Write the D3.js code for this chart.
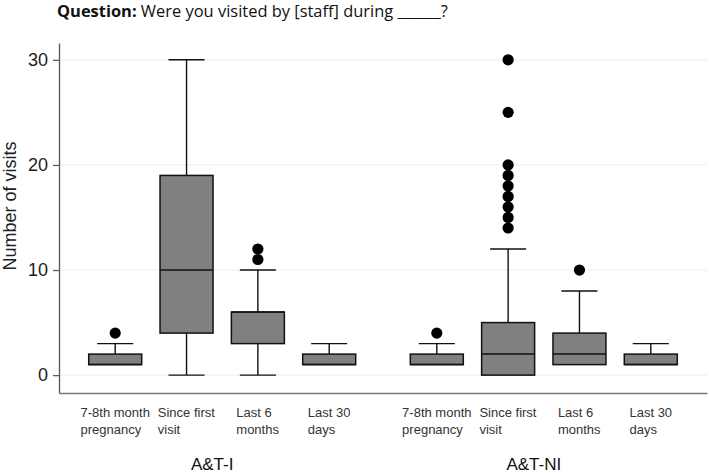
<html lang="en">
  <head>
    <meta charset="UTF-8" />
    <title>Visits boxplot</title>
    <script src="https://d3js.org/d3.v7.min.js"></script>
    <style>
      body { margin: 0; background: #ffffff; }
      svg { display: block; }
      text { font-family: "Liberation Sans", Arial, sans-serif; fill: #222; }
    </style>
  </head>
  <body>
    <script>
      const w = 709;
      const h = 473;

      // data
      const groups = ["A&T-I", "A&T-NI"];
      const categories = [
        ["7-8th month", "pregnancy"],
        ["Since first", "visit"],
        ["Last 6", "months"],
        ["Last 30", "days"],
      ];
      const whiskerLow = [[1, 0, 0, 1], [1, 0, 1, 1]];
      const q1 = [[1, 4, 3, 1], [1, 0, 1, 1]];
      const medians = [[1, 10, 6, 1], [1, 2, 2, 1]];
      const q3 = [[2, 19, 6, 2], [2, 5, 4, 2]];
      const whiskerHigh = [[3, 30, 10, 3], [3, 12, 8, 3]];
      const outliers = [
        [[4], [], [11, 12], []],
        [[4], [14, 15, 16, 17, 18, 19, 20, 25, 30], [10], []],
      ];
      const yTicks = [0, 10, 20, 30];

      const svg = d3.select("body").append("svg").attr("width", w).attr("height", h);

      // title (sized so it spans the same width as the original)
      const title = svg.append("text")
        .attr("x", 57)
        .attr("y", 17)
        .style("font-family", "'Open Sans', Lato, sans-serif")
        .style("font-size", "15px")
        .style("fill", "#111");
      title.append("tspan").style("font-weight", "bold").text("Question:");
      title.append("tspan").text(" Were you visited by [staff] during ______?");
      const tw = title.node().getComputedTextLength();
      title.style("font-size", `${(15 * 391) / tw}px`);

      const plotLeft = 59, plotRight = 707, plotTop = 43, plotBottom = 393;

      const y = d3.scaleLinear().domain([-1.7, 31.6]).range([plotBottom, plotTop]);

      const xOuter = d3.scaleBand()
        .domain(groups)
        .range([plotLeft, plotRight])
        .paddingInner(0.113)
        .paddingOuter(0.064);

      const xInner = d3.scaleBand()
        .domain(d3.range(categories.length))
        .range([0, xOuter.bandwidth()])
        .paddingInner(0.257)
        .paddingOuter(0.128);

      // grid
      svg.append("g")
        .selectAll("line")
        .data(yTicks)
        .join("line")
        .attr("x1", plotLeft)
        .attr("x2", plotRight)
        .attr("y1", (d) => y(d))
        .attr("y2", (d) => y(d))
        .attr("stroke", "#e4eff1")
        .attr("stroke-width", 1);

      // y axis
      const yAxis = svg.append("g")
        .attr("transform", `translate(${plotLeft},0)`)
        .call(d3.axisLeft(y).tickValues(yTicks).tickSize(6).tickSizeOuter(0).tickPadding(5));
      yAxis.selectAll("text").style("font-size", "18px").style("fill", "#222");
      yAxis.select(".domain").attr("stroke", "#555").attr("stroke-width", 1.3);
      yAxis.selectAll(".tick line").attr("stroke", "#555").attr("stroke-width", 1.2);

      // x axis line
      const xAxis = svg.append("g")
        .attr("transform", `translate(0,${plotBottom})`)
        .call(d3.axisBottom(xOuter).tickSize(0).tickSizeOuter(0).tickFormat(""));
      xAxis.select(".domain").attr("stroke", "#777").attr("stroke-width", 1.6);

      svg.append("text")
        .attr("transform", `translate(16,206) rotate(-90)`)
        .attr("text-anchor", "middle")
        .style("font-size", "18px")
        .text("Number of visits");

      const boxes = [];
      groups.forEach((g, gi) => {
        categories.forEach((c, ci) => {
          boxes.push({
            g, gi, ci,
            lo: whiskerLow[gi][ci],
            q1: q1[gi][ci],
            med: medians[gi][ci],
            q3: q3[gi][ci],
            hi: whiskerHigh[gi][ci],
            out: outliers[gi][ci],
          });
        });
      });

      const bw = xInner.bandwidth();
      const cx = (d) => xOuter(d.g) + xInner(d.ci) + bw / 2;
      const capW = bw * 0.68;

      const box = svg.append("g").selectAll("g").data(boxes).join("g");

      // whiskers
      box.append("line")
        .attr("x1", cx).attr("x2", cx)
        .attr("y1", (d) => y(d.hi)).attr("y2", (d) => y(d.q3))
        .attr("stroke", "#111").attr("stroke-width", 1.4);
      box.append("line")
        .attr("x1", cx).attr("x2", cx)
        .attr("y1", (d) => y(d.lo)).attr("y2", (d) => y(d.q1))
        .attr("stroke", "#111").attr("stroke-width", 1.4);
      box.append("line")
        .attr("x1", (d) => cx(d) - capW / 2).attr("x2", (d) => cx(d) + capW / 2)
        .attr("y1", (d) => y(d.hi)).attr("y2", (d) => y(d.hi))
        .attr("stroke", "#111").attr("stroke-width", 1.4);
      box.filter((d) => d.lo < d.q1).append("line")
        .attr("x1", (d) => cx(d) - capW / 2).attr("x2", (d) => cx(d) + capW / 2)
        .attr("y1", (d) => y(d.lo)).attr("y2", (d) => y(d.lo))
        .attr("stroke", "#111").attr("stroke-width", 1.4);

      // boxes
      box.append("rect")
        .attr("x", (d) => cx(d) - bw / 2)
        .attr("width", bw)
        .attr("y", (d) => y(d.q3))
        .attr("height", (d) => y(d.q1) - y(d.q3))
        .attr("fill", "#808080")
        .attr("stroke", "#111")
        .attr("stroke-width", 1.5);
      box.append("line")
        .attr("x1", (d) => cx(d) - bw / 2).attr("x2", (d) => cx(d) + bw / 2)
        .attr("y1", (d) => y(d.med)).attr("y2", (d) => y(d.med))
        .attr("stroke", "#111").attr("stroke-width", 1.5);

      // outliers
      box.selectAll("circle")
        .data((d) => d.out.map((v) => ({ v, d })))
        .join("circle")
        .attr("cx", (o) => cx(o.d))
        .attr("cy", (o) => y(o.v))
        .attr("r", 5.6)
        .attr("fill", "#000");

      // category labels: left-aligned lines, block centred under box
      box.each(function (d) {
        const t = d3.select(this).append("text").style("font-size", "13px").style("fill", "#333");
        categories[d.ci].forEach((line, li) => {
          t.append("tspan").attr("x", 0).attr("y", 417 + li * 16.5).text(line);
        });
        const bb = t.node().getBBox();
        t.attr("transform", `translate(${cx(d) - bb.width / 2},0)`);
      });

      // group labels
      svg.append("g")
        .selectAll("text")
        .data(groups)
        .join("text")
        .attr("x", (g) => xOuter(g) + xOuter.bandwidth() / 2 - 10)
        .attr("y", 470)
        .attr("text-anchor", "middle")
        .style("font-size", "17px")
        .style("fill", "#111")
        .text((g) => g);
    </script>
  </body>
</html>
